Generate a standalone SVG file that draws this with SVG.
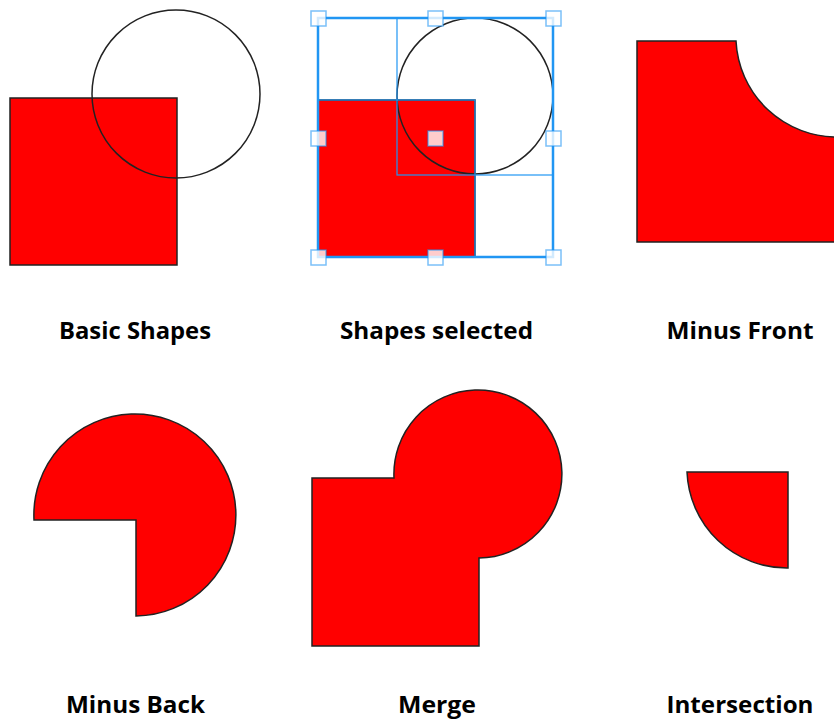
<svg xmlns="http://www.w3.org/2000/svg" width="834" height="719" viewBox="0 0 834 719">
  <style>
    .shape { fill: #ff0000; stroke: #222; stroke-width: 1.5; }
    .ring { fill: none; stroke: #222; stroke-width: 1.5; }
    .sel { fill: none; stroke: #2196f3; stroke-width: 2.5; }
    .thin { fill: none; stroke: #2196f3; stroke-width: 1.2; }
    .handle { fill: #ffffff; fill-opacity: 0.8; stroke: #2196f3; stroke-opacity: 0.6; stroke-width: 1.5; }
    .label { font-family: "Open Sans", "Liberation Sans", sans-serif; font-weight: 700; font-size: 23px; fill: #000; text-anchor: middle; }
  </style>
  <rect width="834" height="719" fill="#ffffff"/>

  <g id="basic-shapes">
    <rect class="shape" x="10" y="98" width="167" height="167"/>
    <circle class="ring" cx="176" cy="94" r="84"/>
    <text class="label" x="135" y="339" textLength="152" lengthAdjust="spacingAndGlyphs">Basic Shapes</text>
  </g>

  <g id="shapes-selected">
    <rect class="shape" x="318" y="100" width="157" height="157" stroke="none"/>
    <circle class="ring" cx="475" cy="96" r="78"/>
    <rect class="thin" x="397" y="18" width="156" height="157"/>
    <rect class="thin" x="318" y="100" width="157" height="157"/>
    <rect class="sel" x="318" y="18" width="235" height="239"/>
    <rect class="handle" x="311" y="11" width="15" height="15"/>
    <rect class="handle" x="428" y="11" width="15" height="15"/>
    <rect class="handle" x="546" y="11" width="15" height="15"/>
    <rect class="handle" x="311" y="131" width="15" height="15"/>
    <rect class="handle" x="428" y="131" width="15" height="15"/>
    <rect class="handle" x="546" y="131" width="15" height="15"/>
    <rect class="handle" x="311" y="250" width="15" height="15"/>
    <rect class="handle" x="428" y="250" width="15" height="15"/>
    <rect class="handle" x="546" y="250" width="15" height="15"/>
    <text class="label" x="436.5" y="339" textLength="193" lengthAdjust="spacingAndGlyphs">Shapes selected</text>
  </g>

  <g id="minus-front">
    <path class="shape" d="M 637 41 L 736 41 A 101 101 0 0 0 838 137 L 838 242 L 637 242 Z"/>
    <text class="label" x="740" y="339" textLength="147" lengthAdjust="spacingAndGlyphs">Minus Front</text>
  </g>

  <g id="minus-back">
    <path class="shape" d="M 34 520 L 136 520 L 136 616 A 101 101 0 1 0 34 520 Z"/>
    <text class="label" x="135.5" y="713" textLength="139" lengthAdjust="spacingAndGlyphs">Minus Back</text>
  </g>

  <g id="merge">
    <path class="shape" d="M 312 478 L 394 478 A 84 84 0 1 1 479 558 L 479 646 L 312 646 Z"/>
    <text class="label" x="437" y="713" textLength="78" lengthAdjust="spacingAndGlyphs">Merge</text>
  </g>

  <g id="intersection">
    <path class="shape" d="M 687 472 L 788 472 L 788 568 A 100 100 0 0 1 687 472 Z"/>
    <text class="label" x="740" y="713" textLength="147" lengthAdjust="spacingAndGlyphs">Intersection</text>
  </g>

  <g id="connectors"></g>
</svg>
